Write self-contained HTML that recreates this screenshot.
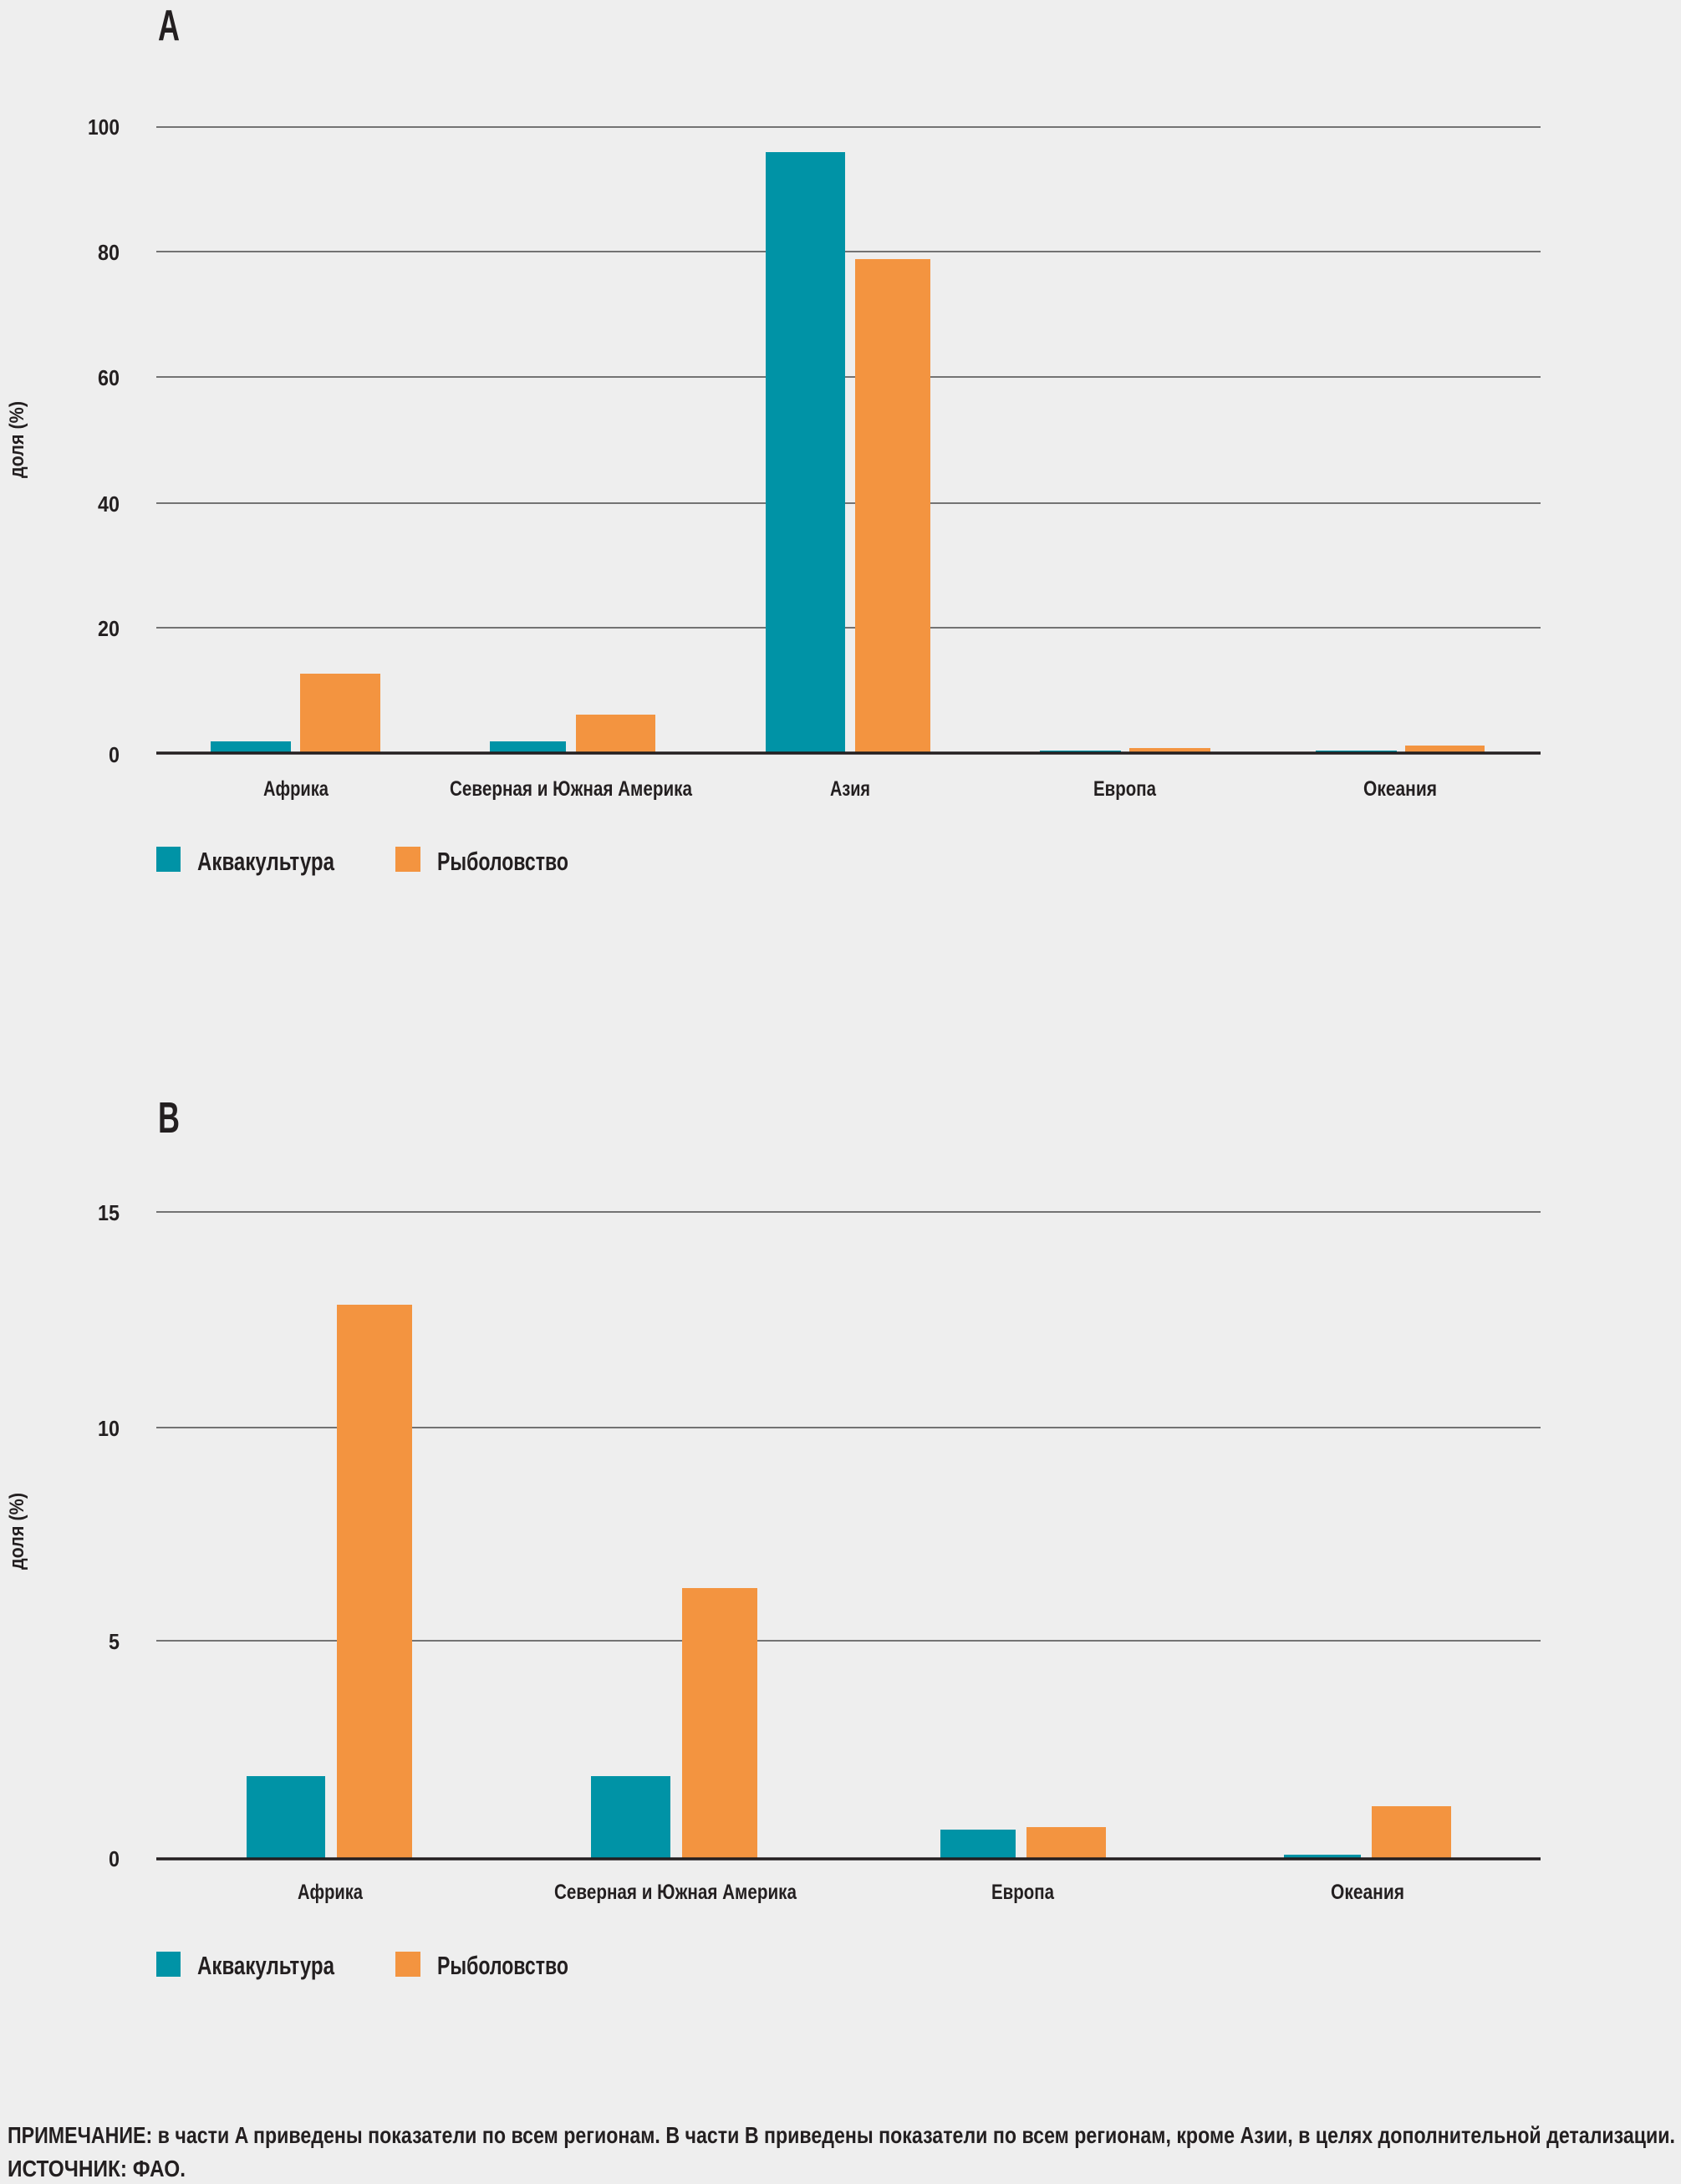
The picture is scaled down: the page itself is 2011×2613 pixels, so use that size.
<!DOCTYPE html>
<html><head><meta charset="utf-8"><style>
html,body{margin:0;padding:0;background:#eeeeee;}
svg{display:block;}
text{font-family:"Liberation Sans Narrow","Liberation Sans",sans-serif;fill:#231f20;}
</style></head><body>
<svg width="2011" height="2613" viewBox="0 0 2011 2613" xmlns="http://www.w3.org/2000/svg">
<rect width="2011" height="2613" fill="#eeeeee"/>
<!-- Chart A -->
<text x="189" y="48" font-size="52" font-weight="bold" textLength="26" lengthAdjust="spacingAndGlyphs">A</text>
<g stroke="#4a4a4a" stroke-width="1.5">
<line x1="187" y1="152" x2="1843" y2="152"/>
<line x1="187" y1="301" x2="1843" y2="301"/>
<line x1="187" y1="451" x2="1843" y2="451"/>
<line x1="187" y1="602" x2="1843" y2="602"/>
<line x1="187" y1="751" x2="1843" y2="751"/>
</g>
<g font-size="26" font-weight="bold">
<text x="105" y="161" textLength="38" lengthAdjust="spacingAndGlyphs">100</text>
<text x="117" y="311" textLength="26" lengthAdjust="spacingAndGlyphs">80</text>
<text x="117" y="461" textLength="26" lengthAdjust="spacingAndGlyphs">60</text>
<text x="117" y="612" textLength="26" lengthAdjust="spacingAndGlyphs">40</text>
<text x="117" y="761" textLength="26" lengthAdjust="spacingAndGlyphs">20</text>
<text x="130" y="912" textLength="13" lengthAdjust="spacingAndGlyphs">0</text>
</g>
<text transform="translate(28,526) rotate(-90)" x="-46" font-size="24" font-weight="bold" textLength="92" lengthAdjust="spacingAndGlyphs">доля (%)</text>
<g fill="#0093a6">
<rect x="252" y="887" width="96" height="14"/>
<rect x="586" y="887" width="91" height="14"/>
<rect x="916" y="182" width="95" height="719"/>
<rect x="1244" y="898" width="97" height="3"/>
<rect x="1574" y="898" width="97" height="3"/>
</g>
<g fill="#f39440">
<rect x="359" y="806" width="96" height="95"/>
<rect x="689" y="855" width="95" height="46"/>
<rect x="1023" y="310" width="90" height="591"/>
<rect x="1351" y="895" width="97" height="6"/>
<rect x="1681" y="892" width="95" height="9"/>
</g>
<line x1="187" y1="901" x2="1843" y2="901" stroke="#231f20" stroke-width="3.5"/>
<g font-size="25" font-weight="bold">
<text x="315" y="952" textLength="78" lengthAdjust="spacingAndGlyphs">Африка</text>
<text x="538" y="952" textLength="290" lengthAdjust="spacingAndGlyphs">Северная и Южная Америка</text>
<text x="993" y="952" textLength="48" lengthAdjust="spacingAndGlyphs">Азия</text>
<text x="1308" y="952" textLength="75" lengthAdjust="spacingAndGlyphs">Европа</text>
<text x="1631" y="952" textLength="88" lengthAdjust="spacingAndGlyphs">Океания</text>
</g>
<rect x="187" y="1013" width="29" height="30" fill="#0093a6"/>
<text x="236" y="1041" font-size="31" font-weight="bold" textLength="164" lengthAdjust="spacingAndGlyphs">Аквакультура</text>
<rect x="473" y="1013" width="30" height="30" fill="#f39440"/>
<text x="523" y="1041" font-size="31" font-weight="bold" textLength="157" lengthAdjust="spacingAndGlyphs">Рыболовство</text>

<!-- Chart B -->
<text x="189" y="1355" font-size="52" font-weight="bold" textLength="26" lengthAdjust="spacingAndGlyphs">B</text>
<g stroke="#4a4a4a" stroke-width="1.5">
<line x1="187" y1="1450" x2="1843" y2="1450"/>
<line x1="187" y1="1708" x2="1843" y2="1708"/>
<line x1="187" y1="1963" x2="1843" y2="1963"/>
</g>
<g font-size="26" font-weight="bold">
<text x="117" y="1460" textLength="26" lengthAdjust="spacingAndGlyphs">15</text>
<text x="117" y="1718" textLength="26" lengthAdjust="spacingAndGlyphs">10</text>
<text x="130" y="1973" textLength="13" lengthAdjust="spacingAndGlyphs">5</text>
<text x="130" y="2233" textLength="13" lengthAdjust="spacingAndGlyphs">0</text>
</g>
<text transform="translate(28,1832) rotate(-90)" x="-46" font-size="24" font-weight="bold" textLength="92" lengthAdjust="spacingAndGlyphs">доля (%)</text>
<g fill="#0093a6">
<rect x="295" y="2125" width="94" height="99"/>
<rect x="707" y="2125" width="95" height="99"/>
<rect x="1125" y="2189" width="90" height="35"/>
<rect x="1536" y="2219" width="92" height="5"/>
</g>
<g fill="#f39440">
<rect x="403" y="1561" width="90" height="663"/>
<rect x="816" y="1900" width="90" height="324"/>
<rect x="1228" y="2186" width="95" height="38"/>
<rect x="1641" y="2161" width="95" height="63"/>
</g>
<line x1="187" y1="2224" x2="1843" y2="2224" stroke="#231f20" stroke-width="3.5"/>
<g font-size="25" font-weight="bold">
<text x="356" y="2272" textLength="78" lengthAdjust="spacingAndGlyphs">Африка</text>
<text x="663" y="2272" textLength="290" lengthAdjust="spacingAndGlyphs">Северная и Южная Америка</text>
<text x="1186" y="2272" textLength="75" lengthAdjust="spacingAndGlyphs">Европа</text>
<text x="1592" y="2272" textLength="88" lengthAdjust="spacingAndGlyphs">Океания</text>
</g>
<rect x="187" y="2335" width="29" height="30" fill="#0093a6"/>
<text x="236" y="2362" font-size="31" font-weight="bold" textLength="164" lengthAdjust="spacingAndGlyphs">Аквакультура</text>
<rect x="473" y="2335" width="30" height="30" fill="#f39440"/>
<text x="523" y="2362" font-size="31" font-weight="bold" textLength="157" lengthAdjust="spacingAndGlyphs">Рыболовство</text>

<text x="9" y="2564" font-size="28" font-weight="bold" textLength="1995" lengthAdjust="spacingAndGlyphs">ПРИМЕЧАНИЕ: в части A приведены показатели по всем регионам. В части B приведены показатели по всем регионам, кроме Азии, в целях дополнительной детализации.</text>
<text x="9" y="2604" font-size="28" font-weight="bold" textLength="213" lengthAdjust="spacingAndGlyphs">ИСТОЧНИК: ФАО.</text>
</svg>
</body></html>
